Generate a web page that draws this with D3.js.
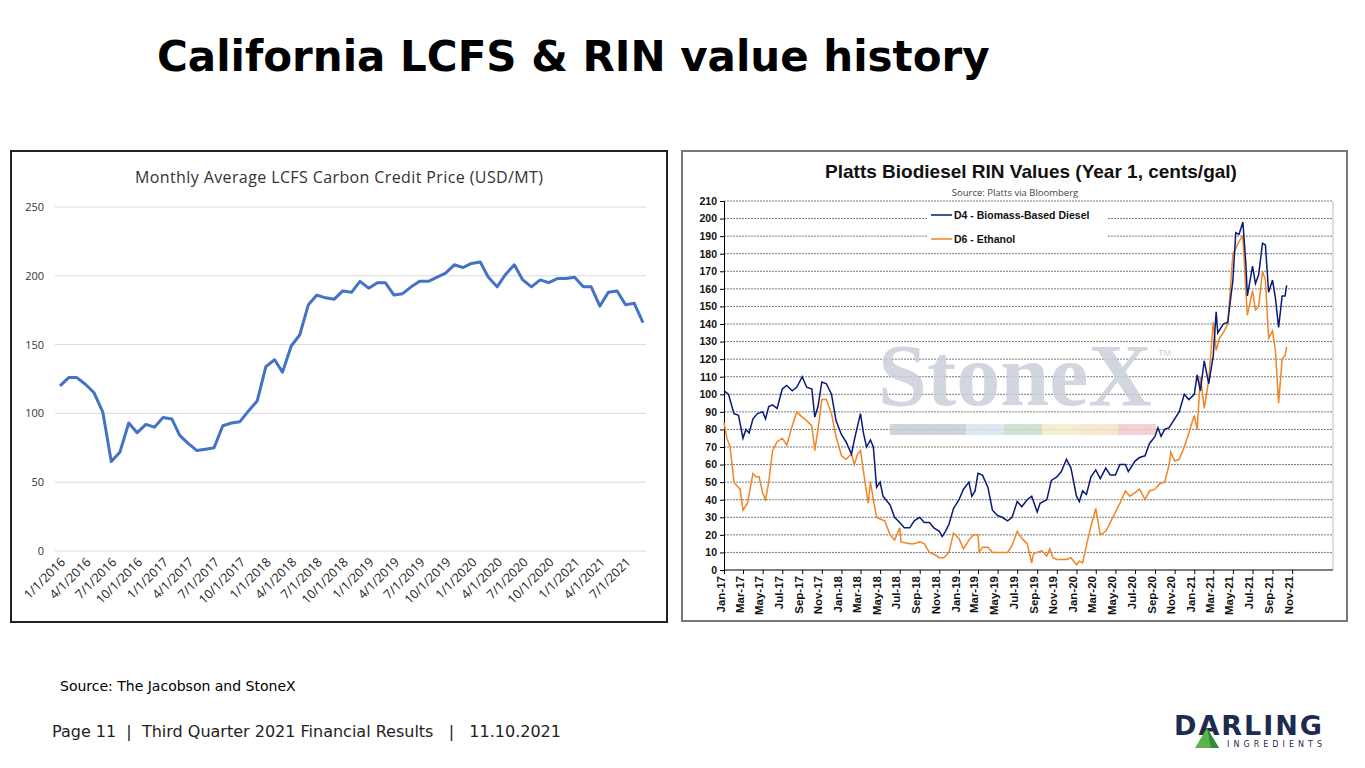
<!DOCTYPE html>
<html lang="en">
<head>
<meta charset="UTF-8">
<title>California LCFS & RIN value history</title>
<script src="https://d3js.org/d3.v7.min.js"></script>
<style>
  body { margin: 0; background: #fff; }
  svg { display: block; }
  text { white-space: pre; }
</style>
</head>
<body>
<svg id="chart" width="1365" height="768"></svg>
<script>
// ---- LCFS monthly average price, Jan 2016 .. Sep 2021
const lcfsStart = "2016-01-01";
const lcfsValues = [
  120,126,126,121,115,101,65,72,93,86,92,90,
  97,96,84,78,73,74,75,91,93,94,102,109,
  134,139,130,149,157,179,186,184,183,189,188,196,
  191,195,195,186,187,192,196,196,199,202,208,206,
  209,210,199,192,201,208,197,192,197,195,198,198,
  199,192,192,178,188,189,179,180,166
];
const lcfsYTicks = [0, 50, 100, 150, 200, 250];

// ---- Platts RIN values (cents/gal)
const d4 = [
 ["2017-01-01",102],["2017-01-15",100],["2017-02-01",89],["2017-02-15",88],["2017-03-01",75],["2017-03-10",80],["2017-03-20",78],["2017-04-01",86],["2017-04-15",89],["2017-05-01",90],["2017-05-10",86],["2017-05-20",93],["2017-06-01",94],["2017-06-15",92],["2017-07-01",103],["2017-07-15",105],["2017-08-01",102],["2017-08-15",104],["2017-09-01",110],["2017-09-15",104],["2017-10-01",103],["2017-10-10",87],["2017-10-20",93],["2017-11-01",107],["2017-11-15",106],["2017-12-01",100],["2017-12-15",85],
 ["2018-01-01",77],["2018-01-15",73],["2018-02-01",66],["2018-02-10",74],["2018-02-20",82],["2018-03-01",89],["2018-03-10",78],["2018-03-20",70],["2018-04-01",74],["2018-04-10",70],["2018-04-20",47],["2018-05-01",50],["2018-05-10",42],["2018-06-01",37],["2018-06-15",30],["2018-07-01",27],["2018-07-15",24],["2018-08-01",24],["2018-08-15",28],["2018-09-01",30],["2018-09-15",27],["2018-10-01",27],["2018-10-15",24],["2018-11-01",22],["2018-11-10",19],["2018-11-20",22],["2018-12-01",26],["2018-12-15",35],
 ["2019-01-01",40],["2019-01-15",46],["2019-02-01",50],["2019-02-10",42],["2019-02-20",45],["2019-03-01",55],["2019-03-15",54],["2019-04-01",47],["2019-04-15",34],["2019-05-01",31],["2019-05-15",30],["2019-06-01",28],["2019-06-15",30],["2019-07-01",39],["2019-07-15",36],["2019-08-01",40],["2019-08-15",42],["2019-09-01",33],["2019-09-10",38],["2019-10-01",40],["2019-10-15",51],["2019-11-01",53],["2019-11-15",56],["2019-12-01",63],["2019-12-15",58],
 ["2020-01-01",42],["2020-01-10",39],["2020-01-20",45],["2020-02-01",43],["2020-02-15",53],["2020-03-01",57],["2020-03-15",52],["2020-04-01",58],["2020-04-15",54],["2020-05-01",54],["2020-05-15",60],["2020-06-01",60],["2020-06-10",56],["2020-07-01",62],["2020-07-15",64],["2020-08-01",65],["2020-08-15",72],["2020-09-01",76],["2020-09-10",81],["2020-09-20",76],["2020-10-01",80],["2020-10-15",81],["2020-11-01",86],["2020-11-15",90],["2020-12-01",100],["2020-12-15",97],
 ["2021-01-01",100],["2021-01-10",111],["2021-01-20",102],["2021-02-01",119],["2021-02-15",106],["2021-03-01",122],["2021-03-10",147],["2021-03-15",135],["2021-04-01",140],["2021-04-15",141],["2021-05-01",165],["2021-05-10",192],["2021-05-20",191],["2021-06-01",198],["2021-06-10",175],["2021-06-15",156],["2021-07-01",173],["2021-07-10",163],["2021-07-20",168],["2021-08-01",186],["2021-08-10",185],["2021-08-20",158],["2021-09-01",165],["2021-09-10",155],["2021-09-20",138],["2021-10-01",156],["2021-10-10",156],["2021-10-15",162]
];
const d6 = [
 ["2017-01-01",84],["2017-01-10",75],["2017-01-20",70],["2017-02-01",50],["2017-02-10",48],["2017-02-20",46],["2017-03-01",34],["2017-03-15",38],["2017-04-01",55],["2017-04-10",53],["2017-04-20",53],["2017-05-01",44],["2017-05-10",40],["2017-05-20",50],["2017-06-01",68],["2017-06-15",73],["2017-07-01",75],["2017-07-15",71],["2017-08-01",82],["2017-08-15",90],["2017-09-01",87],["2017-09-15",85],["2017-10-01",82],["2017-10-10",68],["2017-10-20",80],["2017-11-01",97],["2017-11-15",97],["2017-12-01",89],["2017-12-15",76],
 ["2018-01-01",65],["2018-01-15",63],["2018-02-01",66],["2018-02-10",60],["2018-02-20",66],["2018-03-01",68],["2018-03-15",50],["2018-03-25",38],["2018-04-01",50],["2018-04-10",40],["2018-04-20",30],["2018-05-01",29],["2018-05-15",28],["2018-06-01",20],["2018-06-15",17],["2018-07-01",24],["2018-07-05",16],["2018-08-01",15],["2018-08-15",15],["2018-09-01",16],["2018-09-15",15],["2018-10-01",10],["2018-10-15",9],["2018-11-01",7],["2018-11-15",7],["2018-12-01",10],["2018-12-15",21],
 ["2019-01-01",18],["2019-01-15",12],["2019-02-01",17],["2019-02-15",20],["2019-03-01",20],["2019-03-05",10],["2019-03-15",13],["2019-04-01",13],["2019-04-15",10],["2019-05-01",10],["2019-05-15",10],["2019-06-01",10],["2019-06-15",14],["2019-07-01",22],["2019-07-15",18],["2019-08-01",15],["2019-08-15",4],["2019-08-20",9],["2019-09-01",10],["2019-09-15",11],["2019-10-01",8],["2019-10-10",12],["2019-10-20",7],["2019-11-01",6],["2019-11-15",6],["2019-12-01",6],["2019-12-15",7],
 ["2020-01-01",3],["2020-01-10",5],["2020-01-20",4],["2020-02-01",14],["2020-02-15",25],["2020-03-01",35],["2020-03-15",20],["2020-04-01",22],["2020-04-15",27],["2020-05-01",33],["2020-05-15",38],["2020-06-01",45],["2020-06-15",42],["2020-07-01",44],["2020-07-15",46],["2020-08-01",40],["2020-08-15",45],["2020-09-01",46],["2020-09-15",49],["2020-10-01",50],["2020-10-15",60],["2020-10-20",67],["2020-11-01",62],["2020-11-15",63],["2020-12-01",70],["2020-12-15",78],
 ["2021-01-01",88],["2021-01-10",80],["2021-01-20",110],["2021-02-01",92],["2021-02-15",108],["2021-03-01",141],["2021-03-10",125],["2021-03-20",132],["2021-04-01",135],["2021-04-15",140],["2021-05-01",180],["2021-05-10",183],["2021-05-20",187],["2021-06-01",190],["2021-06-10",160],["2021-06-15",145],["2021-07-01",159],["2021-07-10",148],["2021-07-20",150],["2021-08-01",170],["2021-08-10",165],["2021-08-20",132],["2021-09-01",136],["2021-09-10",125],["2021-09-20",95],["2021-10-01",120],["2021-10-10",122],["2021-10-15",127]
];
const rinYTicks = d3.range(0, 211, 10);

const parse = d3.timeParse("%Y-%m-%d");
const svg = d3.select("#chart");

// ---- page text
svg.append("text").attr("x", 157).attr("y", 71)
  .style("font-family", "DejaVu Sans").style("font-weight", "bold").style("font-size", "42px")
  .attr("fill", "#000").text("California LCFS & RIN value history");
svg.append("text").attr("x", 60).attr("y", 691)
  .style("font-family", "DejaVu Sans").style("font-size", "14px").text("Source: The Jacobson and StoneX");
svg.append("text").attr("x", 52).attr("y", 737)
  .style("font-family", "DejaVu Sans").style("font-size", "16px").attr("fill", "#222")
  .text("Page 11  |  Third Quarter 2021 Financial Results   |   11.10.2021");

// logo
svg.append("text").attr("x", 1174).attr("y", 735)
  .style("font-family", "DejaVu Sans").style("font-weight", "bold").style("font-size", "27px")
  .attr("fill", "#1d2b4f").attr("textLength", 148).text("DARLING");
svg.append("text").attr("x", 1227).attr("y", 747)
  .style("font-family", "DejaVu Sans").style("font-size", "8px").attr("fill", "#1d2b4f")
  .attr("textLength", 95).text("INGREDIENTS");
svg.append("path").attr("d", "M1195,748 L1207,728 L1219,748 Z").attr("fill", "#5bb448");
svg.append("path").attr("d", "M1207,728 L1219,748 L1211,748 Z").attr("fill", "#2e8b3e");

// ================= Left chart =================
svg.append("rect").attr("x", 11).attr("y", 151).attr("width", 656).attr("height", 471)
  .attr("fill", "#fff").attr("stroke", "#222").attr("stroke-width", 2);
svg.append("text").attr("x", 339).attr("y", 183).attr("text-anchor", "middle")
  .style("font-family", "Open Sans").style("font-size", "16px").attr("fill", "#333")
  .attr("textLength", 408).text("Monthly Average LCFS Carbon Credit Price (USD/MT)");

const lcfsData = lcfsValues.map((v, i) => ({ date: d3.timeMonth.offset(parse(lcfsStart), i), v }));
const xL = d3.scaleTime().domain([lcfsData[0].date, lcfsData[lcfsData.length - 1].date]).range([60, 643]);
const yL = d3.scaleLinear().domain([0, 250]).range([551, 207]);
const fmtL = d3.timeFormat("%-m/%-d/%Y");

const gL = svg.append("g");
gL.selectAll("line.grid").data(lcfsYTicks).join("line")
  .attr("x1", 55).attr("x2", 646).attr("y1", d => yL(d)).attr("y2", d => yL(d))
  .attr("stroke", "#d9d9d9").attr("stroke-width", 1);
gL.selectAll("text.ylab").data(lcfsYTicks).join("text")
  .attr("x", 44).attr("y", d => yL(d) + 4).attr("text-anchor", "end")
  .style("font-family", "Open Sans").style("font-size", "11px").attr("fill", "#333").text(d => d);

const lcfsTicks = lcfsData.filter((d, i) => i % 3 === 0);
gL.selectAll("text.xlab").data(lcfsTicks).join("text")
  .attr("transform", d => `translate(${xL(d.date) + 6},${563}) rotate(-45)`)
  .attr("text-anchor", "end")
  .style("font-family", "Open Sans").style("font-size", "12.5px").attr("fill", "#222")
  .text(d => fmtL(d.date));

gL.append("path").datum(lcfsData)
  .attr("d", d3.line().x(d => xL(d.date)).y(d => yL(d.v)))
  .attr("fill", "none").attr("stroke", "#4472c4").attr("stroke-width", 3).attr("stroke-linejoin", "round");

// ================= Right chart =================
svg.append("rect").attr("x", 682).attr("y", 151).attr("width", 665).attr("height", 470)
  .attr("fill", "#fff").attr("stroke", "#777").attr("stroke-width", 2);
svg.append("text").attr("x", 1031).attr("y", 178).attr("text-anchor", "middle")
  .style("font-family", "Liberation Sans").style("font-weight", "bold").style("font-size", "19px")
  .attr("fill", "#111").text("Platts Biodiesel RIN Values (Year 1, cents/gal)");
svg.append("text").attr("x", 1015).attr("y", 196).attr("text-anchor", "middle")
  .style("font-family", "Open Sans").style("font-size", "9.5px").attr("fill", "#444")
  .text("Source: Platts via Bloomberg");

const xR = d3.scaleTime().domain([parse("2017-01-01"), parse("2022-03-08")]).range([724, 1333]);
const yR = d3.scaleLinear().domain([0, 210]).range([570, 201]);
const gR = svg.append("g");

gR.selectAll("line.grid").data(rinYTicks.filter(d => d > 0)).join("line")
  .attr("x1", 724).attr("x2", 1333).attr("y1", d => yR(d)).attr("y2", d => yR(d))
  .attr("stroke", "#555").attr("stroke-width", 0.8).attr("stroke-dasharray", "2,1");
gR.append("line").attr("x1", 1333).attr("x2", 1333).attr("y1", 201).attr("y2", 570).attr("stroke", "#bbb");

// watermark
gR.append("text").attr("x", 1015).attr("y", 405).attr("text-anchor", "middle")
  .style("font-family", "Liberation Serif").style("font-size", "88px").style("font-weight", "bold")
  .attr("fill", "#c9d0da").attr("opacity", 0.85).text("StoneX");
gR.append("text").attr("x", 1158).attr("y", 356).style("font-family", "Liberation Sans")
  .style("font-size", "9px").attr("fill", "#c9d0da").text("TM");
const wmColors = ["#c5ccd6", "#c5ccd6", "#d8e4ee", "#c9dccb", "#f2ecc9", "#f6e3c6", "#f1c9cf"];
gR.selectAll("rect.wm").data(wmColors).join("rect")
  .attr("x", (d, i) => 890 + i * 38).attr("y", 424).attr("width", 38).attr("height", 11)
  .attr("fill", d => d).attr("opacity", 0.85);

// axes
const yAx = gR.append("g").attr("transform", "translate(724,0)")
  .call(d3.axisLeft(yR).tickValues(rinYTicks).tickSize(4));
yAx.selectAll("text").style("font-family", "Liberation Sans").style("font-weight", "bold")
  .style("font-size", "10.5px").attr("fill", "#111");
const xAx = gR.append("g").attr("transform", "translate(0,570)")
  .call(d3.axisBottom(xR).ticks(d3.timeMonth.every(2)).tickFormat(d3.timeFormat("%b-%y")).tickSize(4));
xAx.select(".domain").attr("d", "M724,0H1333");
xAx.selectAll("text").attr("transform", "rotate(-90)").attr("text-anchor", "end")
  .attr("x", -6).attr("y", -4).attr("dy", "0.35em")
  .style("font-family", "Liberation Sans").style("font-weight", "bold").style("font-size", "11.5px").attr("fill", "#111");
xAx.selectAll(".tick").filter(d => d > parse("2021-11-30")).remove();

const lineR = d3.line().x(d => xR(parse(d[0]))).y(d => yR(d[1]));
gR.append("path").datum(d6).attr("d", lineR).attr("fill", "none").attr("stroke", "#f28424").attr("stroke-width", 1.5);
gR.append("path").datum(d4).attr("d", lineR).attr("fill", "none").attr("stroke", "#0a1a7a").attr("stroke-width", 1.5);

// legend
gR.append("rect").attr("x", 928).attr("y", 204).attr("width", 180).attr("height", 46).attr("fill", "#fff");
const legend = [["D4 - Biomass-Based Diesel", "#0a1a7a", 215], ["D6 - Ethanol", "#f28424", 239]];
legend.forEach(([label, color, y]) => {
  gR.append("line").attr("x1", 931).attr("x2", 952).attr("y1", y).attr("y2", y).attr("stroke", color).attr("stroke-width", 1.5);
  gR.append("text").attr("x", 954).attr("y", y + 4).style("font-family", "Liberation Sans")
    .style("font-weight", "bold").style("font-size", "10.5px").attr("fill", "#111").text(label);
});
</script>
</body>
</html>
